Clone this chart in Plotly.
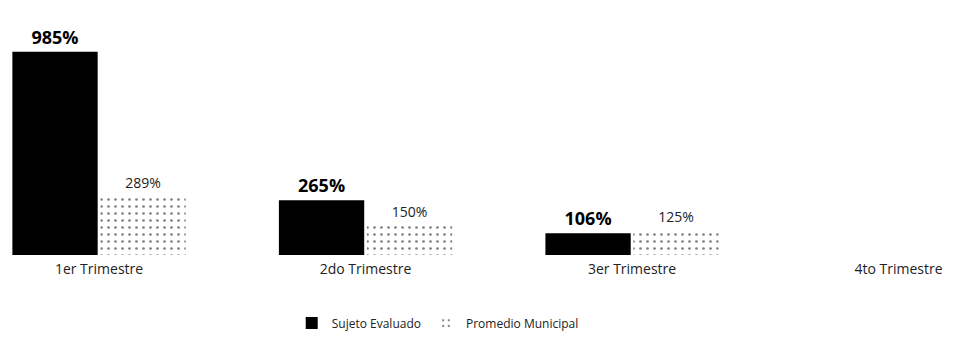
import plotly.graph_objects as go

categories = ["1er Trimestre", "2do Trimestre", "3er Trimestre", "4to Trimestre"]
sujeto = [985, 265, 106, None]
promedio = [289, 150, 125, None]
series_names = ["Sujeto Evaluado", "Promedio Municipal"]

fig = go.Figure()
fig.add_trace(go.Bar(
    x=categories, y=sujeto, name=series_names[0],
    marker=dict(color="#000000", line=dict(width=0)),
    text=[f"{v}%" if v is not None else "" for v in sujeto],
    textposition="outside", cliponaxis=False,
    textfont=dict(family="Open Sans", size=18, color="#000000", weight="bold"),
))
fig.add_trace(go.Bar(
    x=categories, y=promedio, name=series_names[1],
    marker=dict(color="#ffffff", line=dict(width=0),
                pattern=dict(shape=".", fgcolor="#000000", bgcolor="#ffffff",
                             size=7, solidity=0.12)),
    text=[f"{v}%" if v is not None else "" for v in promedio],
    textposition="outside", cliponaxis=False,
    textfont=dict(family="Open Sans", size=14, color="#222222"),
))

fig.update_layout(
    width=962, height=349,
    margin=dict(l=0, r=0, t=28, b=94),
    paper_bgcolor="white", plot_bgcolor="white",
    barmode="group", bargap=0.34, bargroupgap=0.03,
    font=dict(family="Open Sans", size=12, color="#222222"),
    xaxis=dict(range=[-0.3715, 3.238], showgrid=False, zeroline=False,
               showline=False, ticks="", tickfont=dict(size=14),
               ticklabelstandoff=4),
    yaxis=dict(range=[0, 1100], visible=False, showgrid=False),
    showlegend=True,
    legend=dict(orientation="h", x=0.455, xanchor="center", y=-0.3,
                yanchor="middle", font=dict(size=12), itemwidth=30),
)

fig.write_html("out.html", config={"displayModeBar": False},
               post_script="document.body.style.margin='0';document.body.style.overflow='hidden';")
